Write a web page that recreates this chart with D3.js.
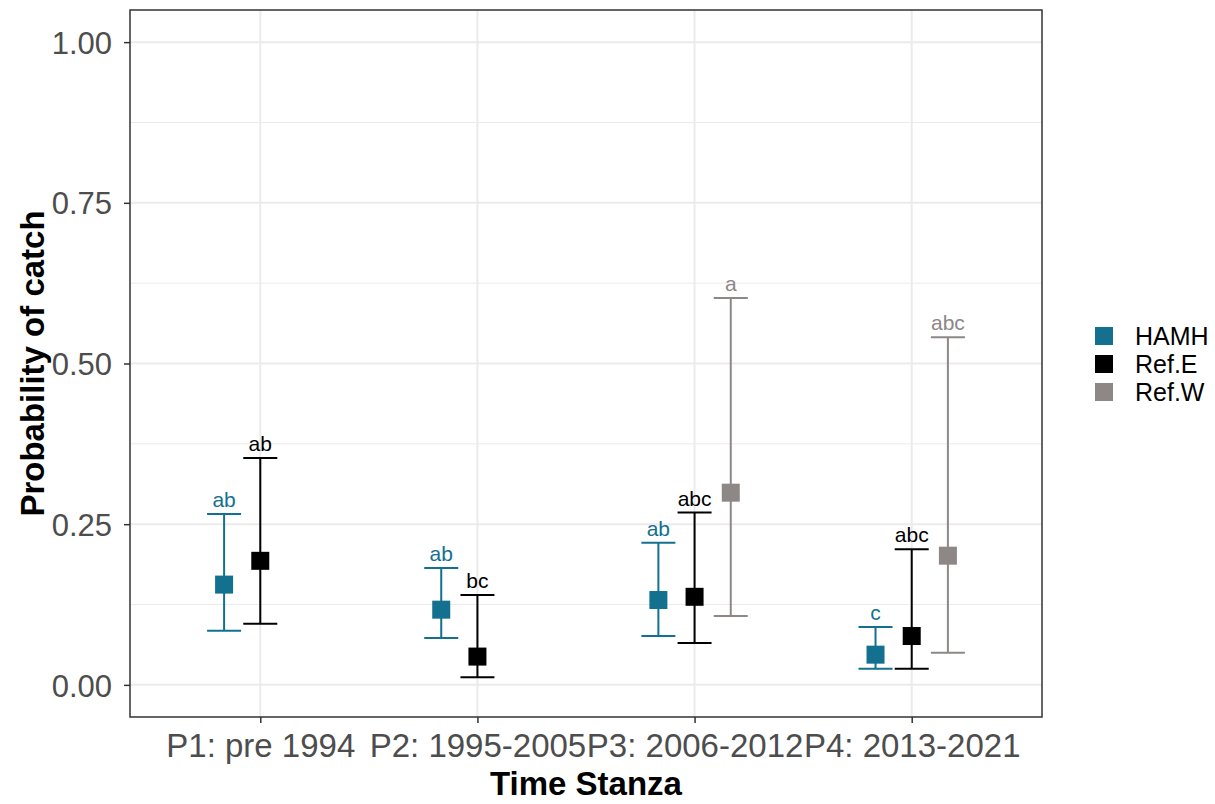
<!DOCTYPE html>
<meta charset="utf-8">
<script src="https://d3js.org/d3.v7.min.js"></script>
<style>
    body { margin: 0; background: #fff; }
    text { font-family: "Liberation Sans", Arial, sans-serif; }
</style>
<div id="chart"></div>
<script>
// values
const stanzas = ["P1: pre 1994", "P2: 1995-2005", "P3: 2006-2012", "P4: 2013-2021"];
const groups = ["HAMH", "Ref.E", "Ref.W"];
const groupColors = ["#13708f", "#000000", "#8d8886"];

const hamhProb = [0.156, 0.117, 0.132, 0.047];
const hamhLower = [0.084, 0.073, 0.076, 0.025];
const hamhUpper = [0.266, 0.182, 0.221, 0.090];
const hamhLetters = ["ab", "ab", "ab", "c"];

const refEProb = [0.193, 0.044, 0.137, 0.076];
const refELower = [0.095, 0.012, 0.065, 0.025];
const refEUpper = [0.353, 0.140, 0.268, 0.211];
const refELetters = ["ab", "bc", "abc", "abc"];

const refWProb = [null, null, 0.299, 0.201];
const refWLower = [null, null, 0.107, 0.050];
const refWUpper = [null, null, 0.602, 0.541];
const refWLetters = [null, null, "a", "abc"];

const yTicks = [0, 0.25, 0.5, 0.75, 1];
const yMinor = [0.125, 0.375, 0.625, 0.875];

const W = 1215, H = 804;
const margin = {top: 10, right: 173, bottom: 87, left: 130};
const width = W - margin.left - margin.right, height = H - margin.top - margin.bottom;

// long table
const rows = [];
[[hamhProb, hamhLower, hamhUpper, hamhLetters],
 [refEProb, refELower, refEUpper, refELetters],
 [refWProb, refWLower, refWUpper, refWLetters]].forEach((s, gi) => {
    stanzas.forEach((st, i) => {
        if (s[0][i] == null) return;
        rows.push({group: groups[gi], gi: gi, stanza: st, p: s[0][i], lo: s[1][i], hi: s[2][i], letter: s[3][i]});
    });
});

const svg = d3.select("#chart").append("svg")
    .attr("width", W).attr("height", H);
const g = svg.append("g").attr("transform", `translate(${margin.left},${margin.top})`);

const x = d3.scalePoint().domain(stanzas).range([0, width]).padding(0.6);
const y = d3.scaleLinear().domain([-0.05, 1.05]).range([height, 0]);
const dodge = x.step() / 6;
const xPos = d => x(d.stanza) + (d.gi - 1) * dodge;
const color = d3.scaleOrdinal(groups, groupColors);

// grid
g.append("g").selectAll("line").data(yMinor).join("line")
    .attr("x1", 0).attr("x2", width)
    .attr("y1", d => y(d)).attr("y2", d => y(d))
    .attr("stroke", "#ebebeb").attr("stroke-width", 1);
g.append("g").selectAll("line").data(yTicks).join("line")
    .attr("x1", 0).attr("x2", width)
    .attr("y1", d => y(d)).attr("y2", d => y(d))
    .attr("stroke", "#ebebeb").attr("stroke-width", 2);
g.append("g").selectAll("line").data(stanzas).join("line")
    .attr("x1", d => x(d)).attr("x2", d => x(d))
    .attr("y1", 0).attr("y2", height)
    .attr("stroke", "#ebebeb").attr("stroke-width", 2);

// error bars
const capW = 17;
const bars = g.append("g").selectAll("g").data(rows).join("g")
    .attr("stroke", d => color(d.group)).attr("stroke-width", 2);
bars.append("line")
    .attr("x1", xPos).attr("x2", xPos)
    .attr("y1", d => y(d.lo)).attr("y2", d => y(d.hi));
bars.append("line")
    .attr("x1", d => xPos(d) - capW).attr("x2", d => xPos(d) + capW)
    .attr("y1", d => y(d.hi)).attr("y2", d => y(d.hi));
bars.append("line")
    .attr("x1", d => xPos(d) - capW).attr("x2", d => xPos(d) + capW)
    .attr("y1", d => y(d.lo)).attr("y2", d => y(d.lo));

// points
const pt = 18;
g.append("g").selectAll("rect").data(rows).join("rect")
    .attr("x", d => xPos(d) - pt / 2).attr("y", d => y(d.p) - pt / 2)
    .attr("width", pt).attr("height", pt)
    .attr("fill", d => color(d.group));

// letters
g.append("g").selectAll("text").data(rows).join("text")
    .attr("x", xPos).attr("y", d => y(d.hi) - 7)
    .attr("text-anchor", "middle")
    .attr("font-size", "21px")
    .attr("fill", d => color(d.group))
    .text(d => d.letter);

// border
g.append("rect").attr("width", width).attr("height", height)
    .attr("fill", "none").attr("stroke", "#333333").attr("stroke-width", 1.5);

// axes
const yAxis = g.append("g")
    .call(d3.axisLeft(y).tickValues(yTicks).tickFormat(d3.format(".2f")).tickSize(6).tickPadding(12));
const xAxis = g.append("g").attr("transform", `translate(0,${height})`)
    .call(d3.axisBottom(x).tickSize(6).tickPadding(9));
[yAxis, xAxis].forEach(a => {
    a.select(".domain").remove();
    a.selectAll(".tick line").attr("stroke", "#333333").attr("stroke-width", 1.5);
    a.selectAll(".tick text").attr("fill", "#4d4d4d").attr("font-family", "Liberation Sans, Arial, sans-serif");
});
yAxis.selectAll(".tick text").attr("font-size", "31px").attr("dy", "0.36em");
xAxis.selectAll(".tick text").attr("font-size", "33px").attr("dy", "0.75em");

// titles
svg.append("text")
    .text("Time Stanza")
    .attr("x", margin.left + width / 2).attr("y", 795)
    .attr("text-anchor", "middle")
    .attr("font-size", "33px").attr("font-weight", "bold");
svg.append("text")
    .text("Probability of catch")
    .attr("transform", `translate(44,${margin.top + height / 2}) rotate(-90)`)
    .attr("text-anchor", "middle")
    .attr("font-size", "33px").attr("font-weight", "bold");

// legend
const legend = svg.append("g").attr("transform", "translate(1095,336)");
const li = legend.selectAll("g").data(groups).join("g")
    .attr("transform", (d, i) => `translate(0,${i * 28})`);
li.append("rect").attr("x", 0).attr("y", -9).attr("width", 18).attr("height", 18)
    .attr("fill", d => color(d));
li.append("text").attr("x", 40).attr("y", 0).attr("dy", "0.36em")
    .attr("font-size", "25px").attr("fill", "#000")
    .text(d => d);
</script>
